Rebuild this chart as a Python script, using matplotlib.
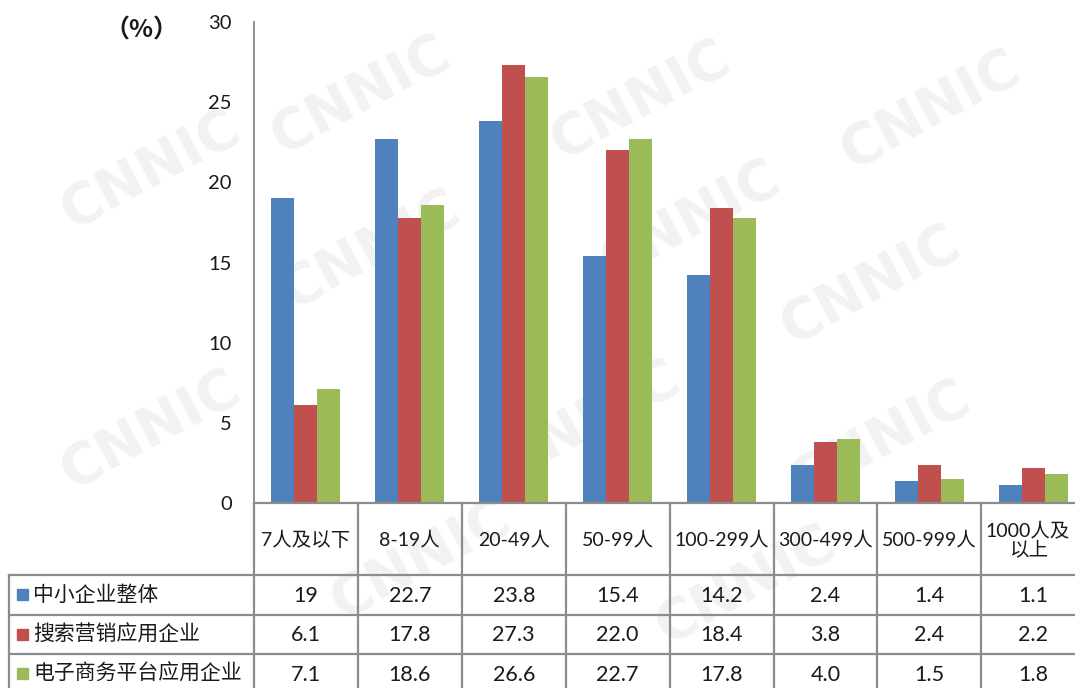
import matplotlib
matplotlib.use("Agg")
import matplotlib.pyplot as plt
import numpy as np

# ---- data -------------------------------------------------------------
categories = ["7人及以下", "8-19人", "20-49人", "50-99人", "100-299人",
              "300-499人", "500-999人", "1000人及\n以上"]
series_names = ["中小企业整体", "搜索营销应用企业", "电子商务平台应用企业"]
sme_overall = [19, 22.7, 23.8, 15.4, 14.2, 2.4, 1.4, 1.1]
search_marketing = [6.1, 17.8, 27.3, 22.0, 18.4, 3.8, 2.4, 2.2]
ecommerce_platform = [7.1, 18.6, 26.6, 22.7, 17.8, 4.0, 1.5, 1.8]
value_formats = ["{:g}", "{:.1f}", "{:.1f}"]
y_ticks = [0, 5, 10, 15, 20, 25, 30]

series = [sme_overall, search_marketing, ecommerce_platform]
colors = ["#4F81BD", "#C0504D", "#9BBB59"]

plt.rcParams["font.family"] = ["Lato", "Noto Sans CJK SC", "DejaVu Sans"]

W, H = 1075, 688
fig = plt.figure(figsize=(W / 100, H / 100), dpi=100)
fig.patch.set_facecolor("white")

# faint repeated logo in the background
wm_centers = [(150, 170), (150, 430), (370, 250), (360, 95), (420, 560),
              (640, 100), (690, 220), (590, 420), (745, 585),
              (870, 285), (880, 440), (930, 110)]
for cx, cy in wm_centers:
    fig.text(cx / W, 1 - cy / H, "CNNIC", rotation=28, fontsize=40,
             fontweight="bold", family="DejaVu Sans", color="#f2f2f2",
             ha="center", va="center", rotation_mode="anchor", zorder=-5)

# ---- geometry (pixels) -------------------------------------------------
px_left, px_right = 254, 1085.2
px_top, px_zero = 22, 503
px_table_bottom = 694
px_label_left = 9
cat_w = (px_right - px_left) / len(categories)

ax = fig.add_axes([px_left / W, 1 - px_zero / H,
                   (px_right - px_left) / W, (px_zero - px_top) / H])
ax.set_facecolor("none")
x = np.arange(len(categories))
bar_w = 23 / cat_w
for i, (vals, col) in enumerate(zip(series, colors)):
    ax.bar(x + (i - 1) * bar_w, vals, width=bar_w, color=col,
           edgecolor="none", zorder=3)
ax.set_xlim(-0.5, len(categories) - 0.5)
ax.set_ylim(0, 30)
ax.set_yticks(y_ticks)
ax.set_yticklabels([str(t) for t in y_ticks], fontsize=14.5, color="#1a1a1a")
ax.tick_params(axis="y", length=0, pad=16)
ax.set_xticks([])
for s in ["top", "right", "bottom"]:
    ax.spines[s].set_visible(False)
ax.spines["left"].set_color("#888888")
ax.spines["left"].set_linewidth(1.3)

fig.text(141 / W, 1 - 31 / H, "（%）", fontsize=18, fontweight="bold",
         family=["Noto Sans CJK SC", "DejaVu Sans"],
         ha="center", va="center", color="#1a1a1a")

# ---- data table under the plot ---------------------------------------
tax = fig.add_axes([px_left / W, 1 - px_table_bottom / H,
                    (px_right - px_left) / W, (px_table_bottom - px_zero) / H])
tax.set_facecolor("none")
tax.set_xlim(-0.5, len(categories) - 0.5)
tax.set_ylim(px_table_bottom - px_zero, 0)
tax.axis("off")

row_edges = [0, 72, 111.5, 151, 190.5]
x_lab = -0.5 - (px_left - px_label_left) / cat_w
grid_kw = dict(color="#8c8c8c", lw=1.6, clip_on=False, zorder=4)

# horizontal rules
tax.plot([-0.5, len(categories) - 0.5], [0, 0], **grid_kw)
for yv in row_edges[1:4]:
    tax.plot([x_lab, len(categories) - 0.5], [yv, yv], **grid_kw)
# vertical rules
for k in range(len(categories) + 1):
    tax.plot([k - 0.5, k - 0.5], [0, row_edges[-1] + 10], **grid_kw)
tax.plot([x_lab, x_lab], [row_edges[1], row_edges[-1] + 10], **grid_kw)

# column headers (the last column is centred on its visible part)
x_visible_right = -0.5 + (W - px_left) / cat_w
for k, cat in enumerate(categories):
    xc = min(k, (k - 0.5 + x_visible_right) / 2)
    tax.text(xc, row_edges[1] / 2 + 1, cat, ha="center", va="center",
             fontsize=14, linespacing=1.1, color="#1a1a1a")

# rows: legend key, name, values
sq = 11 / cat_w
for r, (name, vals, col, fmt) in enumerate(zip(series_names, series, colors,
                                               value_formats)):
    yc = (row_edges[r + 1] + row_edges[r + 2]) / 2
    key_x = -0.5 - (px_left - 17) / cat_w
    tax.add_patch(plt.Rectangle((key_x, yc - 5.5), sq, 11, color=col,
                                clip_on=False, zorder=5))
    tax.text(-0.5 - (px_left - 33) / cat_w, yc, name, ha="left",
             va="center", fontsize=15, color="#1a1a1a")
    for k, v in enumerate(vals):
        tax.text(k, yc + 1, fmt.format(v), ha="center", va="center",
                 fontsize=15.5, color="#1a1a1a")

fig.savefig("out.png", dpi=100, facecolor="white")
